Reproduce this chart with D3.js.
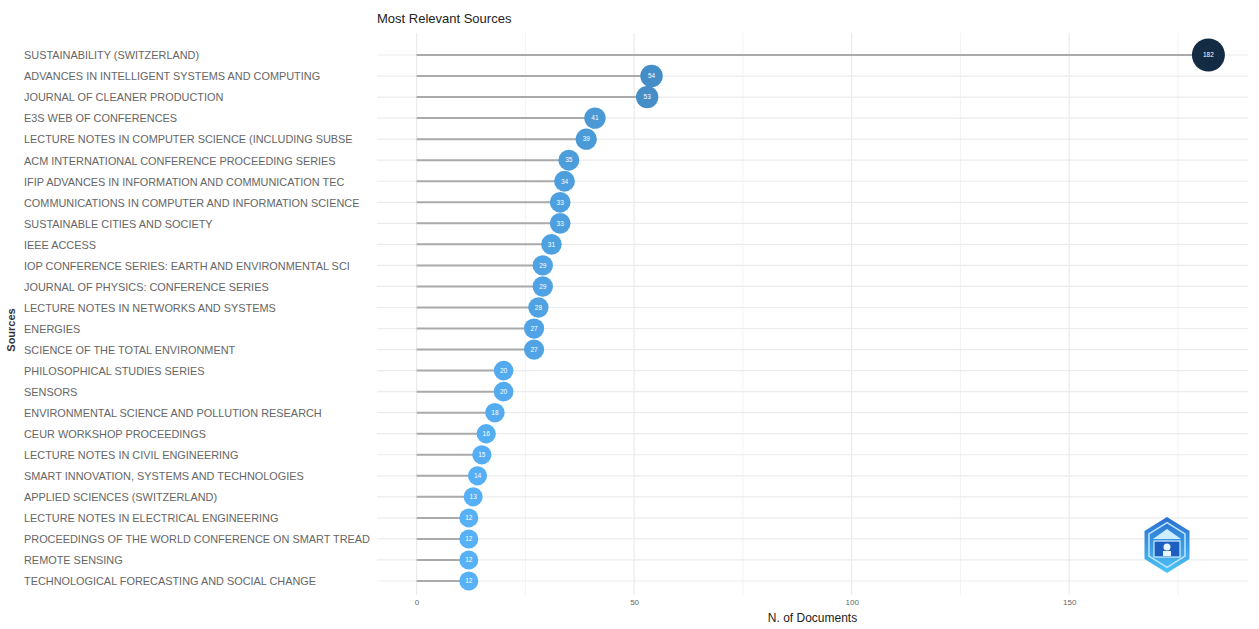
<!DOCTYPE html>
<html>
<head>
<meta charset="utf-8">
<script src="https://cdn.jsdelivr.net/npm/d3@7"></script>
<style>
  html, body { margin: 0; padding: 0; background: #fff; }
  svg { display: block; font-family: "Liberation Sans", Arial, sans-serif; }
</style>
</head>
<body>
<svg id="chart" width="1259" height="629"></svg>
<script>
const sources = [
  "SUSTAINABILITY (SWITZERLAND)",
  "ADVANCES IN INTELLIGENT SYSTEMS AND COMPUTING",
  "JOURNAL OF CLEANER PRODUCTION",
  "E3S WEB OF CONFERENCES",
  "LECTURE NOTES IN COMPUTER SCIENCE (INCLUDING SUBSE",
  "ACM INTERNATIONAL CONFERENCE PROCEEDING SERIES",
  "IFIP ADVANCES IN INFORMATION AND COMMUNICATION TEC",
  "COMMUNICATIONS IN COMPUTER AND INFORMATION SCIENCE",
  "SUSTAINABLE CITIES AND SOCIETY",
  "IEEE ACCESS",
  "IOP CONFERENCE SERIES: EARTH AND ENVIRONMENTAL SCI",
  "JOURNAL OF PHYSICS: CONFERENCE SERIES",
  "LECTURE NOTES IN NETWORKS AND SYSTEMS",
  "ENERGIES",
  "SCIENCE OF THE TOTAL ENVIRONMENT",
  "PHILOSOPHICAL STUDIES SERIES",
  "SENSORS",
  "ENVIRONMENTAL SCIENCE AND POLLUTION RESEARCH",
  "CEUR WORKSHOP PROCEEDINGS",
  "LECTURE NOTES IN CIVIL ENGINEERING",
  "SMART INNOVATION, SYSTEMS AND TECHNOLOGIES",
  "APPLIED SCIENCES (SWITZERLAND)",
  "LECTURE NOTES IN ELECTRICAL ENGINEERING",
  "PROCEEDINGS OF THE WORLD CONFERENCE ON SMART TREAD",
  "REMOTE SENSING",
  "TECHNOLOGICAL FORECASTING AND SOCIAL CHANGE"
];
const documents = [182, 54, 53, 41, 39, 35, 34, 33, 33, 31, 29, 29, 28, 27, 27, 20, 20, 18, 16, 15, 14, 13, 12, 12, 12, 12];
const xTicks = [0, 50, 100, 150];
const xMinorTicks = [25, 75, 125, 175];
const title = "Most Relevant Sources";
const xTitle = "N. of Documents";
const yTitle = "Sources";

const svg = d3.select("#chart");
const panel = { left: 377, right: 1248, top: 33, bottom: 595 };
const maxV = d3.max(documents);
const x = d3.scaleLinear().domain([-0.05 * maxV, maxV * 1.05]).range([panel.left, panel.right]);
const y = d3.scalePoint().domain(sources).range([55, 581]);
const color = d3.scaleLinear().domain([d3.min(documents), maxV]).range(["#56B1F7", "#132B43"]).interpolate(d3.interpolateLab);
const r = d3.scaleLinear().domain([d3.min(documents), maxV]).range([9.5, 16.5]);

// grid
const g = svg.append("g");
g.selectAll(".minor").data(xMinorTicks).join("line")
  .attr("x1", d => x(d)).attr("x2", d => x(d))
  .attr("y1", panel.top).attr("y2", panel.bottom)
  .attr("stroke", "#f2f2f2").attr("stroke-width", 1);
g.selectAll(".major").data(xTicks).join("line")
  .attr("x1", d => x(d)).attr("x2", d => x(d))
  .attr("y1", panel.top).attr("y2", panel.bottom)
  .attr("stroke", "#ebebeb").attr("stroke-width", 1.2);
g.selectAll(".hgrid").data(sources).join("line")
  .attr("x1", panel.left).attr("x2", panel.right)
  .attr("y1", d => y(d)).attr("y2", d => y(d))
  .attr("stroke", "#ebebeb").attr("stroke-width", 1.2);

// x axis
const xAxis = d3.axisBottom(x).tickValues(xTicks).tickSize(0).tickPadding(0);
const xa = svg.append("g").attr("transform", `translate(0,${598})`).call(xAxis);
xa.select(".domain").remove();
xa.selectAll("text").attr("fill", "#666").attr("font-size", "8px").attr("dy", "0.9em")
  .attr("font-family", "'Liberation Sans', Arial, sans-serif");

// y axis labels (left aligned)
const yAxis = d3.axisLeft(y).tickSize(0);
const ya = svg.append("g").attr("transform", `translate(24,0)`).call(yAxis);
ya.select(".domain").remove();
ya.selectAll("text").attr("text-anchor", "start").attr("x", 0).attr("dy", "0.35em")
  .attr("fill", "#666").attr("font-size", "10.9px")
  .attr("font-family", "'Liberation Sans', Arial, sans-serif");

// segments
const data = sources.map((s, i) => ({ s, v: documents[i] }));
svg.append("g").selectAll("line").data(data).join("line")
  .attr("x1", x(0)).attr("x2", d => x(d.v))
  .attr("y1", d => y(d.s)).attr("y2", d => y(d.s))
  .attr("stroke", "#aaaaaa").attr("stroke-width", 2);

// points
const pts = svg.append("g").selectAll("g").data(data).join("g")
  .attr("transform", d => `translate(${x(d.v)},${y(d.s)})`);
pts.append("circle").attr("r", d => r(d.v)).attr("fill", d => color(d.v));
pts.append("text").text(d => d.v)
  .attr("text-anchor", "middle").attr("dy", "0.35em")
  .attr("fill", "#fff").attr("font-size", "6.5px");

// titles
svg.append("text").attr("x", 377).attr("y", 23).text(title)
  .attr("font-size", "13px").attr("fill", "#222");
svg.append("text").attr("x", (panel.left + panel.right) / 2).attr("y", 622)
  .attr("text-anchor", "middle").text(xTitle).attr("font-size", "12px").attr("fill", "#222");
svg.append("text").attr("transform", "translate(15,330) rotate(-90)")
  .attr("text-anchor", "middle").text(yTitle).attr("font-size", "11px")
  .attr("font-weight", "bold").attr("fill", "#333");

// logo (hexagon)
const logo = svg.append("g").attr("transform", "translate(1167,545)");
const defs = svg.append("defs");
const grad = defs.append("linearGradient").attr("id", "lg").attr("x1", 0).attr("y1", 0).attr("x2", 0).attr("y2", 1);
grad.append("stop").attr("offset", "0%").attr("stop-color", "#2a6fd0");
grad.append("stop").attr("offset", "100%").attr("stop-color", "#4cc3f5");
const hex = d3.range(6).map(i => {
  const a = Math.PI / 3 * i - Math.PI / 2;
  return [26 * Math.cos(a), 28 * Math.sin(a)];
});
logo.append("path").attr("d", d3.line()(hex) + "Z").attr("fill", "url(#lg)");
const hex2 = hex.map(p => [p[0] * 0.8, p[1] * 0.8]);
logo.append("path").attr("d", d3.line()(hex2) + "Z").attr("fill", "none")
  .attr("stroke", "#bfe6ff").attr("stroke-width", 1.5);
logo.append("rect").attr("x", -13).attr("y", -4).attr("width", 26).attr("height", 16)
  .attr("fill", "#1d5fc0").attr("stroke", "#cdeeff").attr("stroke-width", 1.2);
logo.append("path").attr("d", "M-14,-6 L0,-16 L14,-6 Z").attr("fill", "#cdeeff");
logo.append("circle").attr("cx", 0).attr("cy", 2).attr("r", 3.5).attr("fill", "#e8f6ff");
logo.append("rect").attr("x", -4).attr("y", 6).attr("width", 8).attr("height", 5).attr("fill", "#e8f6ff");
</script>
</body>
</html>
